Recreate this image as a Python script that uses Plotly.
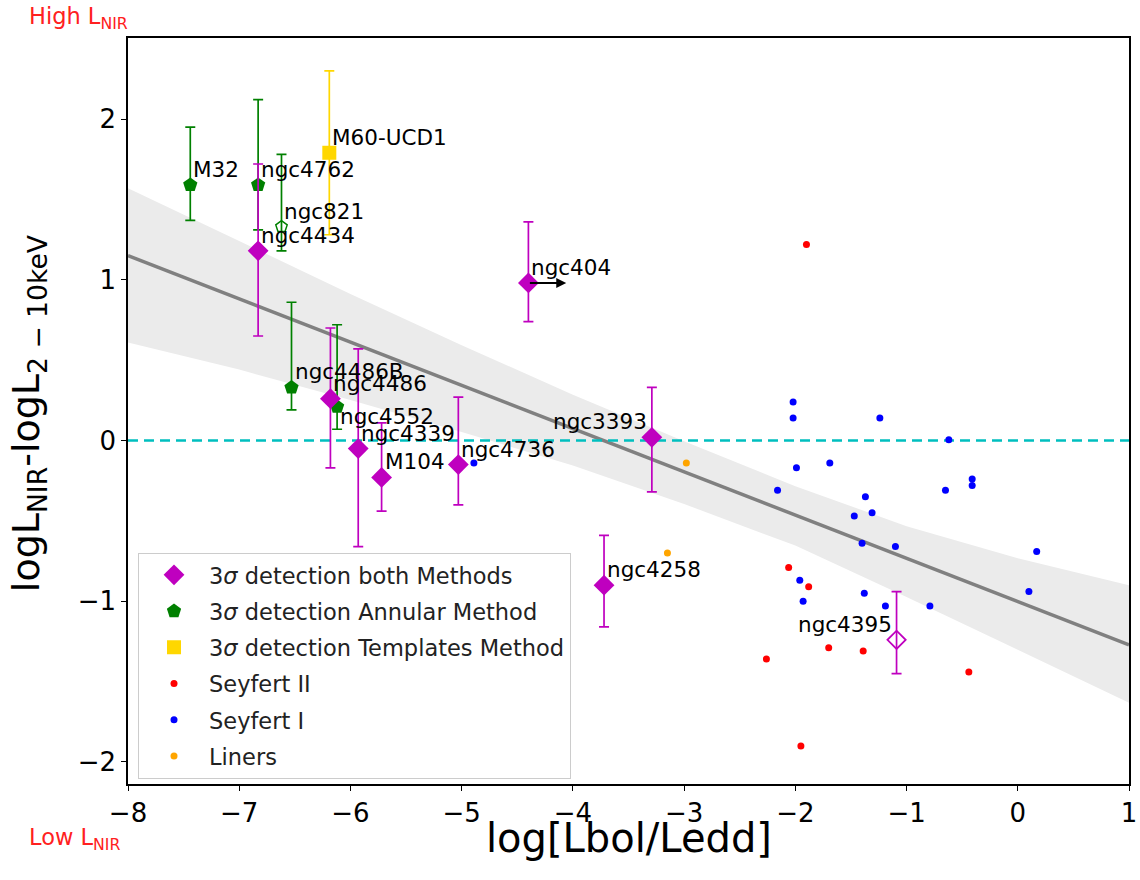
import plotly.graph_objects as go

# ---------------- data ----------------
# regression line and its confidence band
fit_x = [-8, 1]
fit_y = [1.15, -1.271]
band_x = [-8, -7, -6, -5, -4, -3, -2, -1, 0, 1]
band_upper = [1.57, 1.241, 0.912, 0.593, 0.284, -0.005, -0.284, -0.533, -0.732, -0.901]
band_lower = [0.61, 0.441, 0.252, 0.053, -0.156, -0.395, -0.654, -0.973, -1.302, -1.631]

# 3 sigma detection, both methods (filled diamonds)
both_names = ["ngc4434", "ngc404", "ngc4486", "ngc4339", "M104", "ngc4736", "ngc3393", "ngc4258"]
both_x = [-6.83, -4.40, -6.18, -5.93, -5.72, -5.03, -3.29, -3.72]
both_y = [1.18, 0.98, 0.26, -0.05, -0.23, -0.15, 0.02, -0.90]
both_err_up = [0.54, 0.38, 0.44, 0.62, 0.34, 0.42, 0.31, 0.31]
both_err_down = [0.53, 0.24, 0.43, 0.61, 0.21, 0.25, 0.34, 0.26]

# 3 sigma detection, annular method (filled pentagons)
ann_names = ["M32", "ngc4762", "ngc4486B", "ngc4552"]
ann_x = [-7.44, -6.83, -6.53, -6.12]
ann_y = [1.59, 1.59, 0.33, 0.21]
ann_err_up = [0.36, 0.53, 0.53, 0.51]
ann_err_down = [0.22, 0.28, 0.14, 0.14]

# open pentagon (annular, ngc821)
open_pent_names = ["ngc821"]
open_pent_x = [-6.62]
open_pent_y = [1.33]
open_pent_err_up = [0.45]
open_pent_err_down = [0.15]

# 3 sigma detection, templates method (square)
tmpl_names = ["M60-UCD1"]
tmpl_x = [-6.19]
tmpl_y = [1.79]
tmpl_err_up = [0.51]
tmpl_err_down = [0.51]

# open diamond (ngc4395)
open_dia_names = ["ngc4395"]
open_dia_x = [-1.09]
open_dia_y = [-1.24]
open_dia_err_up = [0.30]
open_dia_err_down = [0.21]

# upper-limit arrow for ngc404 (start and end in x)
arrow_from_x = -4.40
arrow_to_x = -4.06
arrow_y = 0.98

# Seyfert II
sy2_x = [-1.90, -2.06, -1.88, -2.26, -1.70, -1.39, -0.44, -1.95]
sy2_y = [1.22, -0.79, -0.91, -1.36, -1.29, -1.31, -1.44, -1.90]

# Seyfert I
sy1_x = [-4.89, -2.02, -2.02, -1.24, -0.62, -1.99, -1.69, -2.16, -1.37, -1.47, -1.31,
         -0.65, -0.41, -0.41, -1.40, -1.10, 0.17, -1.96, -1.93, -1.38, -1.19, -0.79, 0.10]
sy1_y = [-0.14, 0.24, 0.14, 0.14, 0.005, -0.17, -0.14, -0.31, -0.35, -0.47, -0.45,
         -0.31, -0.24, -0.28, -0.64, -0.66, -0.69, -0.87, -1.00, -0.95, -1.03, -1.03, -0.94]

# Liners
lin_x = [-2.98, -3.15]
lin_y = [-0.14, -0.70]

# ---------------- styles ----------------
MAG = "#BF00BF"
GRN = "#008000"
GOLD = "#FFD700"
FONT = "DejaVu Sans"

fig = go.Figure()

# confidence band
fig.add_trace(go.Scatter(x=band_x, y=band_upper, mode="lines", line=dict(width=0),
                         showlegend=False, hoverinfo="skip"))
fig.add_trace(go.Scatter(x=band_x, y=band_lower, mode="lines", line=dict(width=0),
                         fill="tonexty", fillcolor="#EBEBEB", showlegend=False, hoverinfo="skip"))
# regression line
fig.add_trace(go.Scatter(x=fit_x, y=fit_y, mode="lines", line=dict(color="#808080", width=3.5),
                         showlegend=False, hoverinfo="skip"))
# zero dashed line
fig.add_trace(go.Scatter(x=[-8, 1], y=[0, 0], mode="lines",
                         line=dict(color="#00BFBF", width=2.5, dash="10px,6px"),
                         showlegend=False, hoverinfo="skip"))

# AGN points
fig.add_trace(go.Scatter(x=sy2_x, y=sy2_y, mode="markers", name="Seyfert II", legendgroup="g4",
                         marker=dict(color="#FF0000", size=7), legendrank=4))
fig.add_trace(go.Scatter(x=sy1_x, y=sy1_y, mode="markers", name="Seyfert I", legendgroup="g5",
                         marker=dict(color="#0000FF", size=7), legendrank=5))
fig.add_trace(go.Scatter(x=lin_x, y=lin_y, mode="markers", name="Liners", legendgroup="g6",
                         marker=dict(color="#FFA500", size=7), legendrank=6))


def err(up, down, color):
    return dict(type="data", symmetric=False, array=up, arrayminus=down,
                color=color, thickness=1.7, width=5)


# annular (green)
fig.add_trace(go.Scatter(x=ann_x, y=ann_y, mode="markers", name="3<i>σ</i> detection Annular Method",
                         legendgroup="g2",
                         marker=dict(symbol="pentagon", color=GRN, size=15),
                         error_y=err(ann_err_up, ann_err_down, GRN), legendrank=2))
fig.add_trace(go.Scatter(x=open_pent_x, y=open_pent_y, mode="markers", showlegend=False,
                         marker=dict(symbol="pentagon-open", color=GRN, size=12, line=dict(width=1.5)),
                         error_y=err(open_pent_err_up, open_pent_err_down, GRN)))
# templates (gold)
fig.add_trace(go.Scatter(x=tmpl_x, y=tmpl_y, mode="markers", name="3<i>σ</i> detection Templates Method",
                         legendgroup="g3",
                         marker=dict(symbol="square", color=GOLD, size=14),
                         error_y=err(tmpl_err_up, tmpl_err_down, GOLD), legendrank=3))
# both methods (magenta)
fig.add_trace(go.Scatter(x=both_x, y=both_y, mode="markers", name="3<i>σ</i> detection both Methods",
                         legendgroup="g1",
                         marker=dict(symbol="diamond", color=MAG, size=16),
                         error_y=err(both_err_up, both_err_down, MAG), legendrank=1))
fig.add_trace(go.Scatter(x=open_dia_x, y=open_dia_y, mode="markers", showlegend=False,
                         marker=dict(symbol="diamond-open", color=MAG, size=14, line=dict(width=1.8)),
                         error_y=err(open_dia_err_up, open_dia_err_down, MAG)))

# ---------------- annotations ----------------
annotations = []
label_font = dict(family=FONT, size=21.5, color="black")
right_aligned = {"ngc3393", "ngc4395"}
extra_shift = {"ngc4552": -25}
for names, xs, ys in [(both_names, both_x, both_y), (ann_names, ann_x, ann_y),
                      (open_pent_names, open_pent_x, open_pent_y), (tmpl_names, tmpl_x, tmpl_y),
                      (open_dia_names, open_dia_x, open_dia_y)]:
    for n, xv, yv in zip(names, xs, ys):
        annotations.append(dict(x=xv, y=yv, xref="x", yref="y", text=n, showarrow=False,
                                xanchor="right" if n in right_aligned else "left",
                                xshift=-3 if n in right_aligned else 1,
                                yanchor="bottom", yshift=1 + extra_shift.get(n, 0),
                                font=label_font))

# ngc404 arrow
annotations.append(dict(x=arrow_to_x, y=arrow_y, ax=arrow_from_x, ay=arrow_y, xref="x", yref="y",
                        axref="x", ayref="y", text="", showarrow=True, arrowhead=2, arrowsize=1,
                        arrowwidth=2, arrowcolor="black", standoff=0, startstandoff=0))

# High / Low L_NIR
annotations.append(dict(x=-0.101, y=1.049, xref="paper", yref="paper", xanchor="left", yanchor="top",
                        text="High L<sub>NIR</sub>", showarrow=False,
                        font=dict(family=FONT, size=22.5, color="#FF2020")))
annotations.append(dict(x=-0.101, y=-0.0503, xref="paper", yref="paper", xanchor="left", yanchor="top",
                        text="Low L<sub>NIR</sub>", showarrow=False,
                        font=dict(family=FONT, size=22.5, color="#FF2020")))

# axis titles
annotations.append(dict(x=0.5, y=-0.072, xref="paper", yref="paper", xanchor="center", yanchor="middle",
                        text="log[Lbol/Ledd]", showarrow=False,
                        font=dict(family=FONT, size=40, color="black")))
annotations.append(dict(x=-0.1, y=0.497, xref="paper", yref="paper", xanchor="center", yanchor="middle",
                        text="logL<sub>NIR</sub>-logL<sub>2 − 10keV</sub>", showarrow=False, textangle=-90,
                        font=dict(family=FONT, size=38, color="black")))

fig.update_layout(
    width=1140, height=880,
    margin=dict(l=128, r=11, t=38, b=96, autoexpand=False),
    paper_bgcolor="white", plot_bgcolor="white",
    font=dict(family=FONT, color="black"),
    annotations=annotations,
    showlegend=True,
    legend=dict(x=0.01, y=0.31, xanchor="left", yanchor="top", traceorder="grouped",
                bgcolor="white", bordercolor="#CCCCCC", borderwidth=1,
                font=dict(family=FONT, size=22.5, color="#222222"),
                itemwidth=60, tracegroupgap=4),
    xaxis=dict(range=[-8, 1], tick0=-8, dtick=1, showgrid=False, zeroline=False,
               showline=True, mirror=True, linecolor="black", linewidth=1.5,
               ticks="outside", ticklen=5, tickwidth=1.3, tickcolor="black",
               tickfont=dict(family=FONT, size=26), automargin=False),
    yaxis=dict(range=[-2.137, 2.504], tick0=-2, dtick=1, showgrid=False, zeroline=False,
               showline=True, mirror=True, linecolor="black", linewidth=1.5,
               ticks="outside", ticklen=5, tickwidth=1.3, tickcolor="black",
               tickfont=dict(family=FONT, size=26), automargin=False),
)

fig.write_html("out.html", config={"displayModeBar": False},
               post_script="document.body.style.margin='0';")
